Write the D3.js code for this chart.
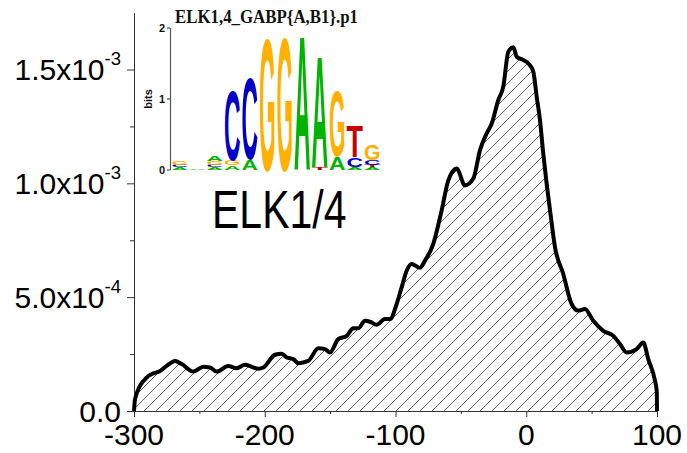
<!DOCTYPE html>
<html>
<head>
<meta charset="utf-8">
<script src="https://cdn.jsdelivr.net/npm/d3@7"></script>
<style>
  body { margin: 0; background: #fff; }
  svg { font-family: "Liberation Sans", Arial, sans-serif; }
</style>
</head>
<body>
<svg id="chart" width="687" height="453"></svg>
<script>
// profile positions (bp) and density values (x1e-4)
const positions = [-300, -299.2, -290.3, -286.5, -280.1, -275.0, -268.6, -263.5, -254.6, -247.0,
  -241.9, -236.8, -227.9, -221.5, -215.1, -210.0, -204.9, -201.1, -192.2, -187.0,
  -183.2, -178.2, -174.3, -166.7, -159.0, -153.9, -150.1, -143.8, -137.3, -132.3,
  -128.5, -123.3, -119.5, -114.4, -108.0, -104.2, -99.1, -95.3, -91.4, -87.6,
  -81.3, -77.4, -71.1, -64.7, -59.6, -53.2, -46.9, -40.5, -35.4, -30.3,
  -26.4, -21.4, -17.6, -13.7, -9.9, -7.3, -2.3, 1.6, 5.4, 8.0,
  10.5, 13.0, 15.6, 18.2, 22.0, 28.3, 34.7, 39.8, 44.9, 51.3,
  58.9, 66.6, 71.7, 76.8, 84.4, 89.5, 93.3, 98.5, 99.8, 100];
const density = [0, 0.53, 1.47, 1.62, 1.76, 1.98, 2.20, 2.06, 1.73, 1.94,
  1.91, 1.73, 1.98, 1.88, 2.03, 1.94, 1.86, 1.91, 2.47, 2.52,
  2.35, 2.28, 2.10, 2.20, 2.76, 2.72, 2.57, 3.16, 3.30, 3.64,
  3.64, 3.96, 3.92, 3.79, 4.04, 4.04, 4.70, 5.43, 6.17, 6.46,
  6.29, 6.61, 7.34, 8.81, 10.13, 10.65, 9.91, 10.21, 11.45, 12.19,
  12.63, 13.66, 14.24, 15.78, 15.98, 15.56, 15.42, 15.27, 14.90, 13.80,
  12.78, 11.31, 9.99, 8.81, 7.19, 6.02, 4.70, 4.41, 4.48, 3.96,
  3.52, 3.30, 2.94, 2.57, 2.72, 3.01, 2.28, 1.32, 0.88, 0];

const xTicks = [-300, -200, -100, 0, 100];
const xMinorTicks = [-250, -150, -50, 50];
const yTicks = [0, 5e-4, 1e-3, 1.5e-3];
const yMinorTicks = [2.5e-4, 7.5e-4, 1.25e-3];
const yTickMantissa = ["0.0", "5.0x10", "1.0x10", "1.5x10"];
const yTickExponent = ["", "-4", "-3", "-3"];

// motif logo, columns listed bottom to top as [letter, bits]
const logoTitle = "ELK1,4_GABP{A,B1}.p1";
const logoTicks = [0, 1, 2];
const logoColumns = [
  [["A", 0.03], ["C", 0.04], ["G", 0.06]],
  [["A", 0.02]],
  [["A", 0.03], ["C", 0.03], ["G", 0.06], ["A", 0.07]],
  [["A", 0.06], ["G", 0.07], ["C", 1.0]],
  [["A", 0.15], ["C", 1.16]],
  [["G", 1.9]],
  [["G", 1.92]],
  [["A", 1.93]],
  [["T", 0.04], ["A", 1.6]],
  [["A", 0.19], ["G", 0.94]],
  [["A", 0.04], ["C", 0.13], ["T", 0.45]],
  [["A", 0.04], ["T", 0.03], ["C", 0.07], ["G", 0.22]]
];
const baseColors = {A: "#00b400", C: "#0000c8", G: "#ffb000", T: "#c80000"};

const svg = d3.select("#chart");

const x = d3.scaleLinear().domain([-300, 100]).range([134, 657]);
const y = d3.scaleLinear().domain([0, 1.75e-3]).range([411, 12.6]);

const points = positions.map((p, i) => ({x: p, y: density[i] * 1e-4}));

// hatch pattern for the area
const defs = svg.append("defs");
defs.append("pattern")
    .attr("id", "hatch")
    .attr("patternUnits", "userSpaceOnUse")
    .attr("x", 3)
    .attr("width", 12)
    .attr("height", 12)
  .append("path")
    .attr("d", "M0,12 L12,0 M-3,3 L3,-3 M9,15 L15,9")
    .attr("stroke", "#555")
    .attr("stroke-width", 0.9);

const area = d3.area()
    .x(d => x(d.x))
    .y0(y(0))
    .y1(d => y(d.y))
    .curve(d3.curveMonotoneX);
const line = d3.line()
    .x(d => x(d.x))
    .y(d => y(d.y))
    .curve(d3.curveMonotoneX);

svg.append("path")
    .datum(points)
    .attr("d", area)
    .attr("fill", "url(#hatch)");

// axes
const axisColor = "#333";
const gx = svg.append("g").attr("transform", `translate(0,${y(0)})`);
gx.call(d3.axisBottom(x).tickValues(xTicks).tickSize(6).tickSizeOuter(0).tickFormat(""));
gx.append("g").call(d3.axisBottom(x).tickValues(xMinorTicks).tickSize(3).tickFormat(""))
  .select(".domain").remove();
gx.selectAll("path, line").attr("stroke", axisColor);
gx.selectAll(".tick-label")
    .data(xTicks)
    .enter().append("text")
    .attr("x", d => x(d))
    .attr("y", 34)
    .attr("text-anchor", "middle")
    .attr("font-size", 30)
    .attr("fill", "#000")
    .text(d => d);

const gy = svg.append("g").attr("transform", `translate(${x(-300)},0)`);
gy.call(d3.axisLeft(y).tickValues(yTicks).tickSize(7).tickSizeOuter(0).tickFormat(""));
gy.append("g").call(d3.axisLeft(y).tickValues(yMinorTicks).tickSize(4).tickFormat(""))
  .select(".domain").remove();
gy.selectAll("path, line").attr("stroke", axisColor);
const yLabels = gy.selectAll(".tick-label")
    .data(yTicks)
    .enter().append("text")
    .attr("x", -13)
    .attr("y", d => y(d) + 10.5)
    .attr("text-anchor", "end")
    .attr("font-size", 30)
    .attr("fill", "#000");
yLabels.append("tspan").text((d, i) => yTickMantissa[i]);
yLabels.append("tspan")
    .attr("font-size", 18.5)
    .attr("dy", -15)
    .text((d, i) => yTickExponent[i]);

// profile line on top
svg.append("path")
    .datum(points)
    .attr("d", line)
    .attr("fill", "none")
    .attr("stroke", "#000")
    .attr("stroke-width", 4)
    .attr("stroke-linejoin", "round");

// motif logo
const logo = svg.append("g");
const bits = d3.scaleLinear().domain([0, 2]).range([169.5, 27.5]);
const colX = d3.scaleLinear().domain([0, logoColumns.length]).range([171, 381]);
const colW = colX(1) - colX(0);

logo.append("text")
    .attr("x", 175)
    .attr("y", 23)
    .style("font-family", "'Liberation Serif', 'Times New Roman', serif")
    .attr("font-weight", "bold")
    .attr("font-size", 19)
    .attr("textLength", 183)
    .attr("lengthAdjust", "spacingAndGlyphs")
    .attr("fill", "#111")
    .text(logoTitle);

const logoAxis = logo.append("g").attr("transform", "translate(170,0)");
logoAxis.call(d3.axisLeft(bits).tickValues(logoTicks).tickSize(3).tickSizeOuter(0)
    .tickPadding(2).tickFormat(d3.format("d")));
logoAxis.selectAll("path, line").attr("stroke", "#555").attr("stroke-width", 1.2);
logoAxis.selectAll("text")
    .attr("font-size", 11)
    .attr("font-weight", "bold")
    .attr("font-family", null)
    .attr("fill", "#111");

logo.append("text")
    .attr("transform", "translate(152,99) rotate(-90)")
    .attr("text-anchor", "middle")
    .attr("font-size", 11)
    .attr("font-weight", "bold")
    .attr("fill", "#111")
    .text("bits");

const capH = 72; // cap height of a 100px bold glyph
logoColumns.forEach((col, i) => {
  let acc = 0;
  col.forEach(([base, h]) => {
    const yb = bits(acc);
    const yt = bits(acc + h);
    acc += h;
    const hp = yb - yt;
    if (hp <= 0) return;
    logo.append("text")
        .attr("transform", `translate(${colX(i) + 0.5},${yb}) scale(1,${hp / capH})`)
        .attr("font-size", 100)
        .attr("font-weight", "bold")
        .attr("textLength", colW - 1)
        .attr("lengthAdjust", "spacingAndGlyphs")
        .attr("fill", baseColors[base])
        .text(base);
  });
});

// factor name
svg.append("text")
    .attr("transform", "translate(212,228) scale(1,1.3)")
    .attr("font-size", 41)
    .attr("fill", "#000")
    .text("ELK1/4");
</script>
</body>
</html>
